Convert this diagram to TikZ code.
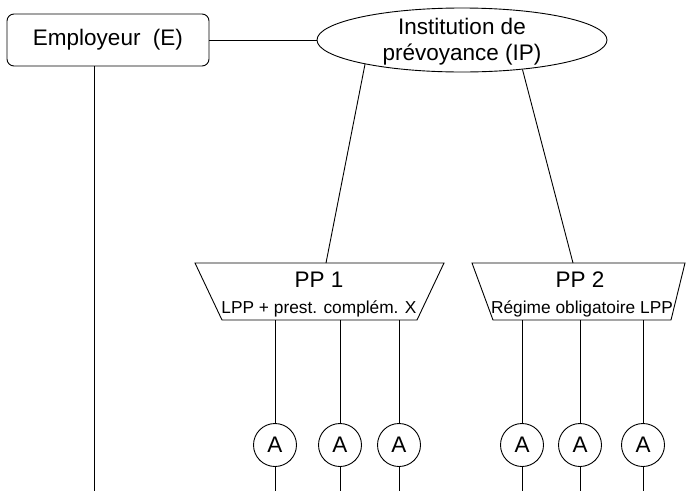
\documentclass[tikz,border=0pt]{standalone}
\usepackage{fontspec}
\setmainfont{Liberation Sans}
\usetikzlibrary{shapes.geometric}
\begin{document}
\begin{tikzpicture}[x=1pt,y=-1pt, line width=0.9pt,
  big/.style={font=\fontsize{22.5}{26}\selectfont},
  small/.style={font=\fontsize{17.3}{20}\selectfont},
  empbox/.style={draw, rounded corners=7pt, minimum width=202pt, minimum height=52pt, inner sep=0pt, big},
  ipell/.style={draw, ellipse, minimum width=290pt, minimum height=64pt, inner sep=0pt},
  member/.style={draw, circle, minimum size=43pt, inner sep=0pt, big},
  label/.style={inner sep=0pt, anchor=base}]
\useasboundingbox (0,0) rectangle (686,491);
% employer
\node[empbox] (emp) at (108,40) {Employeur\ \ (E)};
% institution
\node[ipell] (ip) at (462,40) {};
\node[big, align=center, inner sep=0pt] (iptext) at (462,42) {Institution de\\prévoyance (IP)};
\draw (emp.east) -- (ip.west);
\coordinate (empend) at (94,491);
\draw (emp.south -| empend) -- (empend);
% PP1
\coordinate (pp1a) at (195,263);
\coordinate (pp1b) at (444,263);
\coordinate (pp1c) at (417,320);
\coordinate (pp1d) at (222,320);
\draw (pp1a) -- (pp1b) -- (pp1c) -- (pp1d) -- cycle;
\node[big, label] (pp1) at (319,287) {PP 1};
\node[small, label] (pp1sub) at (319,313) {LPP + prest. complém. X};
% PP2
\coordinate (pp2a) at (472,263);
\coordinate (pp2b) at (685,263);
\coordinate (pp2c) at (671,320);
\coordinate (pp2d) at (493,320);
\draw (pp2a) -- (pp2b) -- (pp2c) -- (pp2d) -- cycle;
\node[big, label] (pp2) at (580,287) {PP 2};
\node[small, label] (pp2sub) at (582,313) {Régime obligatoire LPP};
% IP to PP
\coordinate (pp1top) at (326,263);
\coordinate (pp2top) at (573,263);
\draw (ip.194.6) -- (pp1top);
\draw (ip.334.1) -- (pp2top);
% members
\foreach \x/\n in {275/a1,340/a2,399/a3,522/a4,580/a5,643/a6} {
  \node[member] (\n) at (\x,445) {A};
  \coordinate (t\n) at (\x,320);
  \coordinate (e\n) at (\x,491);
  \draw (t\n) -- (\n);
  \draw (\n) -- (e\n);
}
\end{tikzpicture}
\end{document}
